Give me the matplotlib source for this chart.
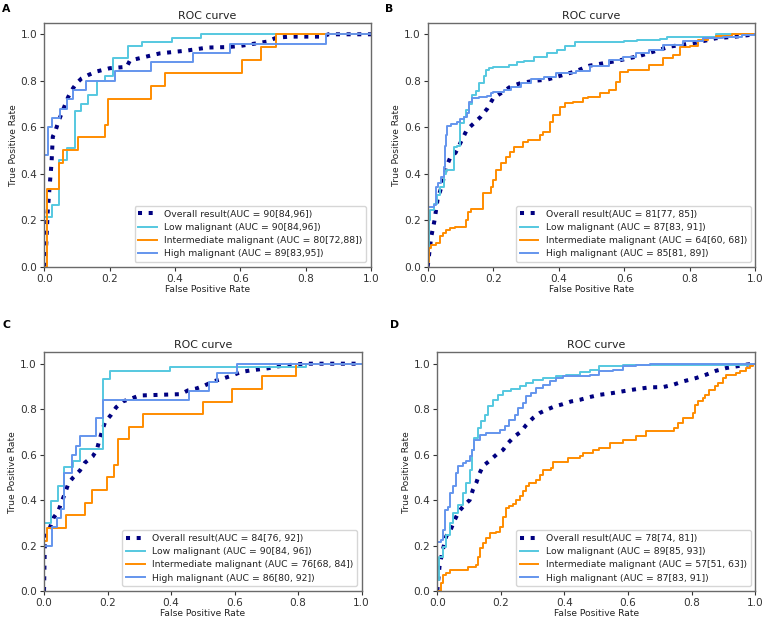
import matplotlib
matplotlib.use("Agg")
import matplotlib.pyplot as plt

# ---------------- data ----------------
panel_letters = ["A", "B", "C", "D"]
series_names = ["Overall result", "Low malignant", "Intermediate malignant", "High malignant"]

auc_labels = {
    "A": ["Overall result(AUC = 90[84,96])", "Low malignant (AUC = 90[84,96])",
          "Intermediate malignant (AUC = 80[72,88])", "High malignant (AUC = 89[83,95])"],
    "B": ["Overall result(AUC = 81[77, 85])", "Low malignant (AUC = 87[83, 91])",
          "Intermediate malignant (AUC = 64[60, 68])", "High malignant (AUC = 85[81, 89])"],
    "C": ["Overall result(AUC = 84[76, 92])", "Low malignant (AUC = 90[84, 96])",
          "Intermediate malignant (AUC = 76[68, 84])", "High malignant (AUC = 86[80, 92])"],
    "D": ["Overall result(AUC = 78[74, 81])", "Low malignant (AUC = 89[85, 93])",
          "Intermediate malignant (AUC = 57[51, 63])", "High malignant (AUC = 87[83, 91])"],
}

# ---- Panel A ----
A_overall_fpr = [0, 0.004, 0.007, 0.01, 0.017, 0.022, 0.026, 0.033, 0.043, 0.053, 0.063, 0.073, 0.084, 0.099,
                 0.114, 0.135, 0.16, 0.2, 0.252, 0.262, 0.3, 0.354, 0.436, 0.5, 0.56, 0.6, 0.68, 0.71, 0.75,
                 0.85, 0.87, 1.0]
A_overall_tpr = [0, 0.043, 0.13, 0.23, 0.36, 0.445, 0.56, 0.58, 0.624, 0.66, 0.695, 0.73, 0.76, 0.79,
                 0.81, 0.825, 0.84, 0.854, 0.86, 0.887, 0.9, 0.918, 0.93, 0.943, 0.945, 0.95, 0.968, 0.985, 0.99,
                 0.99, 1.0, 1.0]
A_low_fpr = [0, 0.022, 0.046, 0.069, 0.093, 0.113, 0.135, 0.16, 0.186, 0.21, 0.255, 0.30, 0.39, 0.48, 1.0]
A_low_tpr = [0.215, 0.265, 0.46, 0.51, 0.67, 0.70, 0.737, 0.80, 0.82, 0.90, 0.95, 0.967, 0.983, 1.0, 1.0]
A_int_fpr = [0, 0.009, 0.046, 0.056, 0.103, 0.186, 0.196, 0.327, 0.37, 0.604, 0.663, 0.709, 1.0]
A_int_tpr = [0, 0.333, 0.444, 0.5, 0.556, 0.611, 0.722, 0.778, 0.833, 0.889, 0.944, 1.0, 1.0]
A_high_fpr = [0, 0.012, 0.024, 0.048, 0.068, 0.089, 0.128, 0.216, 0.327, 0.454, 0.568, 0.862, 1.0]
A_high_tpr = [0.48, 0.60, 0.64, 0.68, 0.72, 0.76, 0.80, 0.84, 0.88, 0.92, 0.96, 1.0, 1.0]

# ---- Panel B ----
B_overall_fpr = [0, 0.005, 0.011, 0.021, 0.03, 0.042, 0.05, 0.057, 0.07, 0.085, 0.106, 0.12, 0.141, 0.162,
                 0.182, 0.2, 0.223, 0.253, 0.284, 0.325, 0.365, 0.396, 0.45, 0.494, 0.576, 0.647, 0.739,
                 0.82, 0.88, 0.94, 1.0]
B_overall_tpr = [0, 0.06, 0.13, 0.2, 0.287, 0.344, 0.387, 0.43, 0.473, 0.49, 0.55, 0.59, 0.617, 0.645,
                 0.68, 0.725, 0.746, 0.775, 0.79, 0.80, 0.805, 0.818, 0.84, 0.865, 0.885, 0.907, 0.947,
                 0.964, 0.983, 0.99, 1.0]
B_low_fpr = [0, 0.004, 0.007, 0.019, 0.029, 0.039, 0.049, 0.055, 0.08, 0.09, 0.1, 0.11, 0.116, 0.126,
             0.136, 0.146, 0.157, 0.172, 0.177, 0.187, 0.20, 0.248, 0.274, 0.294, 0.325, 0.365, 0.396,
             0.42, 0.45, 0.6, 0.64, 0.71, 0.73, 0.82, 0.88, 1.0]
B_low_tpr = [0.06, 0.2, 0.244, 0.27, 0.31, 0.344, 0.40, 0.416, 0.517, 0.52, 0.617, 0.645, 0.674, 0.70,
             0.74, 0.756, 0.79, 0.82, 0.846, 0.857, 0.86, 0.87, 0.88, 0.887, 0.904, 0.918, 0.933,
             0.95, 0.966, 0.97, 0.975, 0.98, 0.987, 0.99, 1.0, 1.0]
B_int_fpr = [0, 0.004, 0.011, 0.026, 0.037, 0.047, 0.057, 0.067, 0.082, 0.118, 0.123, 0.133, 0.169, 0.174,
             0.194, 0.2, 0.21, 0.225, 0.24, 0.25, 0.265, 0.29, 0.306, 0.342, 0.352, 0.372, 0.383, 0.403,
             0.418, 0.444, 0.474, 0.49, 0.525, 0.555, 0.576, 0.586, 0.611, 0.677, 0.718, 0.749, 0.769,
             0.8, 0.825, 0.855, 0.88, 0.92, 0.93, 1.0]
B_int_tpr = [0.02, 0.08, 0.093, 0.1, 0.13, 0.143, 0.158, 0.165, 0.172, 0.2, 0.237, 0.25, 0.316, 0.316,
             0.344, 0.373, 0.416, 0.445, 0.473, 0.495, 0.516, 0.538, 0.545, 0.567, 0.58, 0.624, 0.653, 0.689,
             0.703, 0.71, 0.724, 0.732, 0.746, 0.76, 0.796, 0.839, 0.846, 0.868, 0.897, 0.911, 0.947,
             0.95, 0.976, 0.983, 0.993, 0.993, 1.0, 1.0]
B_high_fpr = [0, 0.02, 0.025, 0.03, 0.04, 0.05, 0.052, 0.055, 0.06, 0.07, 0.09, 0.1, 0.11, 0.119, 0.126,
              0.136, 0.157, 0.182, 0.192, 0.2, 0.233, 0.253, 0.284, 0.314, 0.355, 0.393, 0.454, 0.494,
              0.555, 0.596, 0.637, 0.677, 0.718, 0.779, 0.84, 0.9, 0.96, 1.0]
B_high_tpr = [0.258, 0.265, 0.344, 0.36, 0.387, 0.43, 0.52, 0.567, 0.605, 0.614, 0.624, 0.634, 0.645,
              0.66, 0.71, 0.725, 0.73, 0.735, 0.746, 0.753, 0.76, 0.775, 0.792, 0.806, 0.818, 0.832, 0.844,
              0.864, 0.89, 0.904, 0.918, 0.933, 0.954, 0.973, 0.983, 0.99, 0.997, 1.0]

# ---- Panel C ----
C_overall_fpr = [0, 0.003, 0.019, 0.029, 0.045, 0.056, 0.066, 0.077, 0.092, 0.113, 0.129, 0.153, 0.166,
                 0.174, 0.182, 0.192, 0.211, 0.227, 0.248, 0.276, 0.3, 0.43, 0.454, 0.48, 0.507, 0.533,
                 0.562, 0.59, 0.619, 0.648, 0.677, 0.706, 0.735, 0.764, 0.795, 0.82, 1.0]
C_overall_tpr = [0, 0.247, 0.28, 0.32, 0.352, 0.394, 0.43, 0.474, 0.5, 0.53, 0.565, 0.592, 0.62,
                 0.662, 0.70, 0.743, 0.775, 0.808, 0.834, 0.847, 0.86, 0.866, 0.883, 0.891, 0.905, 0.922,
                 0.934, 0.947, 0.963, 0.97, 0.975, 0.98, 0.988, 0.993, 0.997, 1.0, 1.0]
C_low_fpr = [0, 0.022, 0.045, 0.064, 0.09, 0.113, 0.186, 0.209, 0.395, 0.825, 1.0]
C_low_tpr = [0.298, 0.398, 0.464, 0.545, 0.574, 0.625, 0.934, 0.969, 0.984, 1.0, 1.0]
C_int_fpr = [0, 0.01, 0.07, 0.128, 0.152, 0.197, 0.221, 0.234, 0.268, 0.313, 0.5, 0.593, 0.685, 0.792, 1.0]
C_int_tpr = [0.222, 0.278, 0.333, 0.389, 0.444, 0.5, 0.556, 0.667, 0.722, 0.778, 0.833, 0.889, 0.944, 1.0, 1.0]
C_high_fpr = [0, 0.024, 0.04, 0.052, 0.063, 0.089, 0.101, 0.113, 0.164, 0.187, 0.456, 0.52, 0.544, 0.609, 1.0]
C_high_tpr = [0.2, 0.28, 0.32, 0.36, 0.52, 0.60, 0.64, 0.68, 0.76, 0.84, 0.88, 0.92, 0.96, 1.0, 1.0]

# ---- Panel D ----
D_overall_fpr = [0, 0.007, 0.016, 0.028, 0.044, 0.055, 0.068, 0.086, 0.102, 0.112, 0.123, 0.133, 0.144,
                 0.162, 0.186, 0.207, 0.222, 0.243, 0.264, 0.28, 0.301, 0.322, 0.343, 0.369, 0.395, 0.421,
                 0.448, 0.479, 0.51, 0.552, 0.594, 0.626, 0.668, 0.71, 0.741, 0.773, 0.814, 0.846, 0.877,
                 0.909, 0.94, 0.972, 1.0]
D_overall_tpr = [0, 0.107, 0.173, 0.24, 0.276, 0.313, 0.35, 0.379, 0.40, 0.445, 0.477, 0.518, 0.55,
                 0.57, 0.60, 0.621, 0.65, 0.68, 0.702, 0.731, 0.761, 0.783, 0.797, 0.812, 0.822, 0.834,
                 0.841, 0.853, 0.863, 0.871, 0.881, 0.888, 0.896, 0.897, 0.907, 0.922, 0.937, 0.952, 0.969,
                 0.981, 0.988, 0.996, 1.0]
D_low_fpr = [0, 0.005, 0.007, 0.018, 0.028, 0.039, 0.049, 0.065, 0.081, 0.091, 0.102, 0.11, 0.117, 0.128,
             0.138, 0.149, 0.159, 0.175, 0.191, 0.206, 0.233, 0.259, 0.28, 0.30, 0.332, 0.374, 0.406,
             0.448, 0.479, 0.51, 0.584, 0.99, 1.0]
D_low_tpr = [0.05, 0.107, 0.15, 0.195, 0.247, 0.298, 0.342, 0.379, 0.43, 0.474, 0.533, 0.621, 0.673, 0.717,
             0.746, 0.775, 0.812, 0.841, 0.863, 0.878, 0.888, 0.90, 0.915, 0.93, 0.937, 0.944, 0.95,
             0.962, 0.974, 0.988, 0.996, 1.0, 1.0]
D_int_fpr = [0, 0.013, 0.018, 0.028, 0.039, 0.096, 0.123, 0.128, 0.133, 0.144, 0.154, 0.165, 0.186, 0.196,
             0.207, 0.215, 0.227, 0.238, 0.248, 0.259, 0.269, 0.28, 0.29, 0.311, 0.322, 0.332, 0.358,
             0.364, 0.411, 0.448, 0.458, 0.49, 0.51, 0.542, 0.584, 0.626, 0.657, 0.746, 0.757, 0.773,
             0.804, 0.809, 0.82, 0.835, 0.841, 0.856, 0.872, 0.883, 0.898, 0.909, 0.94, 0.951, 0.972,
             0.982, 0.993, 1.0]
D_int_tpr = [0, 0.034, 0.07, 0.078, 0.093, 0.107, 0.115, 0.151, 0.188, 0.21, 0.232, 0.254, 0.261, 0.283,
             0.327, 0.364, 0.372, 0.383, 0.40, 0.416, 0.438, 0.46, 0.474, 0.489, 0.511, 0.533, 0.54,
             0.567, 0.584, 0.592, 0.606, 0.621, 0.628, 0.65, 0.665, 0.68, 0.702, 0.717, 0.739, 0.761,
             0.783, 0.82, 0.834, 0.849, 0.864, 0.886, 0.90, 0.915, 0.937, 0.952, 0.959, 0.966, 0.981,
             0.991, 1.0, 1.0]
D_high_fpr = [0, 0.013, 0.018, 0.025, 0.034, 0.04, 0.049, 0.06, 0.065, 0.081, 0.091, 0.102, 0.11, 0.117,
              0.133, 0.154, 0.18, 0.196, 0.212, 0.227, 0.243, 0.254, 0.27, 0.28, 0.296, 0.311, 0.332,
              0.353, 0.374, 0.395, 0.427, 0.479, 0.51, 0.552, 0.584, 0.626, 0.668, 1.0]
D_high_tpr = [0.217, 0.225, 0.269, 0.357, 0.37, 0.43, 0.46, 0.518, 0.548, 0.562, 0.57, 0.595, 0.62, 0.665,
              0.687, 0.695, 0.697, 0.709, 0.724, 0.753, 0.775, 0.805, 0.827, 0.856, 0.87, 0.893, 0.907,
              0.922, 0.937, 0.944, 0.947, 0.952, 0.966, 0.974, 0.988, 0.996, 1.0, 1.0]

panel_data = {
    "A": [(A_overall_fpr, A_overall_tpr), (A_low_fpr, A_low_tpr), (A_int_fpr, A_int_tpr), (A_high_fpr, A_high_tpr)],
    "B": [(B_overall_fpr, B_overall_tpr), (B_low_fpr, B_low_tpr), (B_int_fpr, B_int_tpr), (B_high_fpr, B_high_tpr)],
    "C": [(C_overall_fpr, C_overall_tpr), (C_low_fpr, C_low_tpr), (C_int_fpr, C_int_tpr), (C_high_fpr, C_high_tpr)],
    "D": [(D_overall_fpr, D_overall_tpr), (D_low_fpr, D_low_tpr), (D_int_fpr, D_int_tpr), (D_high_fpr, D_high_tpr)],
}

x_ticks = [0.0, 0.2, 0.4, 0.6, 0.8, 1.0]
y_ticks = [0.0, 0.2, 0.4, 0.6, 0.8, 1.0]

# ---------------- styling ----------------
colors = ["navy", "#55c8e0", "darkorange", "cornflowerblue"]

axes_rects = {
    "A": [0.0578, 0.5685, 0.4259, 0.3948],
    "B": [0.5576, 0.5685, 0.4271, 0.3948],
    "C": [0.0574, 0.0437, 0.4142, 0.3862],
    "D": [0.5701, 0.0437, 0.4146, 0.3862],
}
letter_pos = {"A": (0.003, 0.993), "B": (0.502, 0.993), "C": (0.003, 0.482), "D": (0.508, 0.482)}

fig = plt.figure(figsize=(7.67, 6.18), dpi=100)

for key in panel_letters:
    ax = fig.add_axes(axes_rects[key])
    curves = panel_data[key]
    labels = auc_labels[key]
    # overall: smooth dotted line
    fx, fy = curves[0]
    ax.plot(fx, fy, color=colors[0], linestyle=":", linewidth=2.9, label=labels[0])
    for i in range(1, 4):
        fx, fy = curves[i]
        ax.step(fx, fy, where="post", color=colors[i], linewidth=1.4, label=labels[i])
    ax.set_xlim(0.0, 1.0)
    ax.set_ylim(0.0, 1.05)
    ax.set_xticks(x_ticks)
    ax.set_yticks(y_ticks)
    ax.set_xticklabels([f"{v:.1f}" for v in x_ticks], fontsize=7.6)
    ax.set_yticklabels([f"{v:.1f}" for v in y_ticks], fontsize=7.6)
    ax.tick_params(length=3, width=0.8, pad=2, colors="#333333")
    for s in ax.spines.values():
        s.set_color("#6a6a6a")
        s.set_linewidth(1.0)
    ax.set_xlabel("False Positive Rate", fontsize=6.6, labelpad=1, color="#222222")
    ax.set_ylabel("True Positive Rate", fontsize=6.6, labelpad=2, color="#222222")
    ax.set_title("ROC curve", fontsize=7.9, pad=3, color="#222222")
    leg = ax.legend(loc="lower right", fontsize=6.7, handlelength=2.0, borderaxespad=0.5,
                    labelspacing=0.45, framealpha=0.8)
    for t in leg.get_texts():
        t.set_color("#222222")
    fig.text(letter_pos[key][0], letter_pos[key][1], key, fontsize=7.8, fontweight="bold",
             ha="left", va="top", color="black")

fig.savefig("out.png", dpi=100)
